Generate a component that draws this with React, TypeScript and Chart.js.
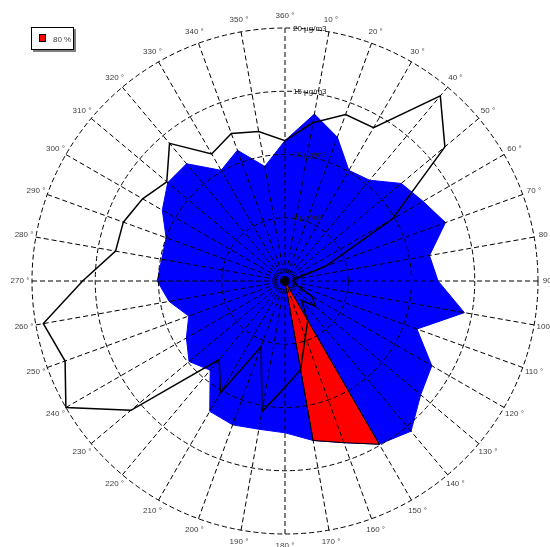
import React, { useEffect, useRef } from 'react';
import { Chart, registerables } from 'chart.js';

Chart.register(...registerables);

// Direction tick labels (clockwise from north, every 10°)
const angleLabels = [
  '360 °', '10 °', '20 °', '30 °', '40 °', '50 °', '60 °', '70 °', '80 °',
  '90 °', '100 °', '110 °', '120 °', '130 °', '140 °', '150 °', '160 °', '170 °',
  '180 °', '190 °', '200 °', '210 °', '220 °', '230 °', '240 °', '250 °', '260 °',
  '270 °', '280 °', '290 °', '300 °', '310 °', '320 °', '330 °', '340 °', '350 °',
];

// Radial rings (µg/m3)
const ringValues = [5, 10, 15, 20];
const ringLabels = ['5 µg/m3', '10 µg/m3', '15 µg/m3', '20 µg/m3'];

// Blue filled rose
const blueValues = [
  11.1, 13.4, 12.1, 10.1, 10.4, 12.0, 12.6, 13.5, 11.6,
  12.1, 14.4, 11.1, 13.4, 14.0, 15.5, 14.9, 13.6, 12.8,
  12.0, 11.9, 12.1, 11.9, 9.2, 9.9, 9.0, 8.1, 9.3,
  10.1, 9.9, 10.0, 11.2, 12.1, 12.1, 10.1, 11.0, 9.2,
];

// Red "80 %" sector
const redValues = [
  0, 0, 0, 0, 0, 0, 0, 0, 0,
  0, 0, 0, 0, 0, 0, 14.9, 13.6, 12.8,
  0, 0, 0, 0, 0, 0, 0, 0, 0,
  0, 0, 0, 0, 0, 0, 0, 0, 0,
];

// Black outline rose
const blackValues = [
  11.1, 12.7, 14.0, 14.0, 19.1, 16.5, 9.8, 3.4, 0.7,
  0.6, 0.8, 1.0, 2.5, 3.1, 2.0, 3.6, 4.7, 7.1,
  8.4, 10.5, 5.5, 10.2, 8.1, 15.9, 20.0, 18.5, 19.4,
  16.0, 13.6, 13.6, 13.0, 12.2, 14.2, 11.6, 12.4, 12.0,
];

const legendLabel = '80 %';

const FONT = '8px "Liberation Sans", Arial, Helvetica, sans-serif';

const overlayPlugin = {
  id: 'overlayLabels',
  afterDraw(chart: any) {
    const s = chart.scales.r;
    const ctx = chart.ctx;
    ctx.save();
    ctx.font = FONT;
    // direction labels
    ctx.fillStyle = '#404040';
    ctx.textAlign = 'center';
    ctx.textBaseline = 'middle';
    angleLabels.forEach((t, i) => {
      const p = s.getPointPosition(i, s.drawingArea + 12);
      ctx.fillText(t, p.x, p.y);
    });
    // ring labels
    ctx.fillStyle = '#202020';
    ctx.textAlign = 'left';
    ringValues.forEach((v, i) => {
      const d = s.getDistanceFromCenterForValue(v);
      ctx.fillText(ringLabels[i], s.xCenter + 8, s.yCenter - d + 0.5);
    });
    // legend box
    ctx.fillStyle = '#7f7f7f';
    ctx.fillRect(33, 29, 43, 23);
    ctx.fillStyle = '#ffffff';
    ctx.fillRect(31, 27, 43, 23);
    ctx.strokeStyle = '#000000';
    ctx.lineWidth = 1;
    ctx.strokeRect(31.5, 27.5, 42, 22);
    ctx.fillStyle = '#ff0000';
    ctx.fillRect(39.5, 34.5, 6, 7);
    ctx.strokeRect(39.5, 34.5, 6, 7);
    ctx.fillStyle = '#404040';
    ctx.textAlign = 'left';
    ctx.fillText(legendLabel, 53, 39.5);
    ctx.restore();
  },
};

export default function App() {
  const ref = useRef<HTMLCanvasElement | null>(null);

  useEffect(() => {
    if (!ref.current) return;
    const chart = new Chart(ref.current, {
      type: 'radar',
      data: {
        labels: angleLabels,
        datasets: [
          {
            label: 'black',
            data: blackValues,
            borderColor: '#000000',
            borderWidth: 1.5,
            backgroundColor: 'rgba(0,0,0,0)',
            fill: false,
            pointRadius: 0,
            tension: 0,
          },
          {
            label: legendLabel,
            data: redValues,
            borderColor: '#000000',
            borderWidth: 1,
            backgroundColor: '#ff0000',
            fill: true,
            pointRadius: 0,
            tension: 0,
          },
          {
            label: 'blue',
            data: blueValues,
            borderColor: '#0000ff',
            borderWidth: 1,
            backgroundColor: '#0000ff',
            fill: true,
            pointRadius: 0,
            tension: 0,
          },
        ],
      },
      options: {
        responsive: false,
        animation: false,
        devicePixelRatio: 1,
        layout: { padding: { left: 32, right: 12, top: 28, bottom: 13 } },
        plugins: {
          legend: { display: false },
          tooltip: { enabled: false },
        },
        elements: { line: { tension: 0, borderJoinStyle: 'miter' } },
        scales: {
          r: {
            min: 0,
            max: 20,
            startAngle: 0,
            ticks: { display: false, stepSize: 5 },
            pointLabels: { display: false },
            grid: { circular: true, color: '#000000', lineWidth: 1, z: 1 },
            border: { dash: [5, 3] },
            angleLines: { display: true, color: '#000000', lineWidth: 1, borderDash: [5, 3] },
          },
        },
      } as any,
      plugins: [overlayPlugin],
    });
    return () => chart.destroy();
  }, []);

  return (
    <canvas
      ref={ref}
      width={550}
      height={547}
      style={{ position: 'fixed', left: 0, top: 0 }}
    />
  );
}
